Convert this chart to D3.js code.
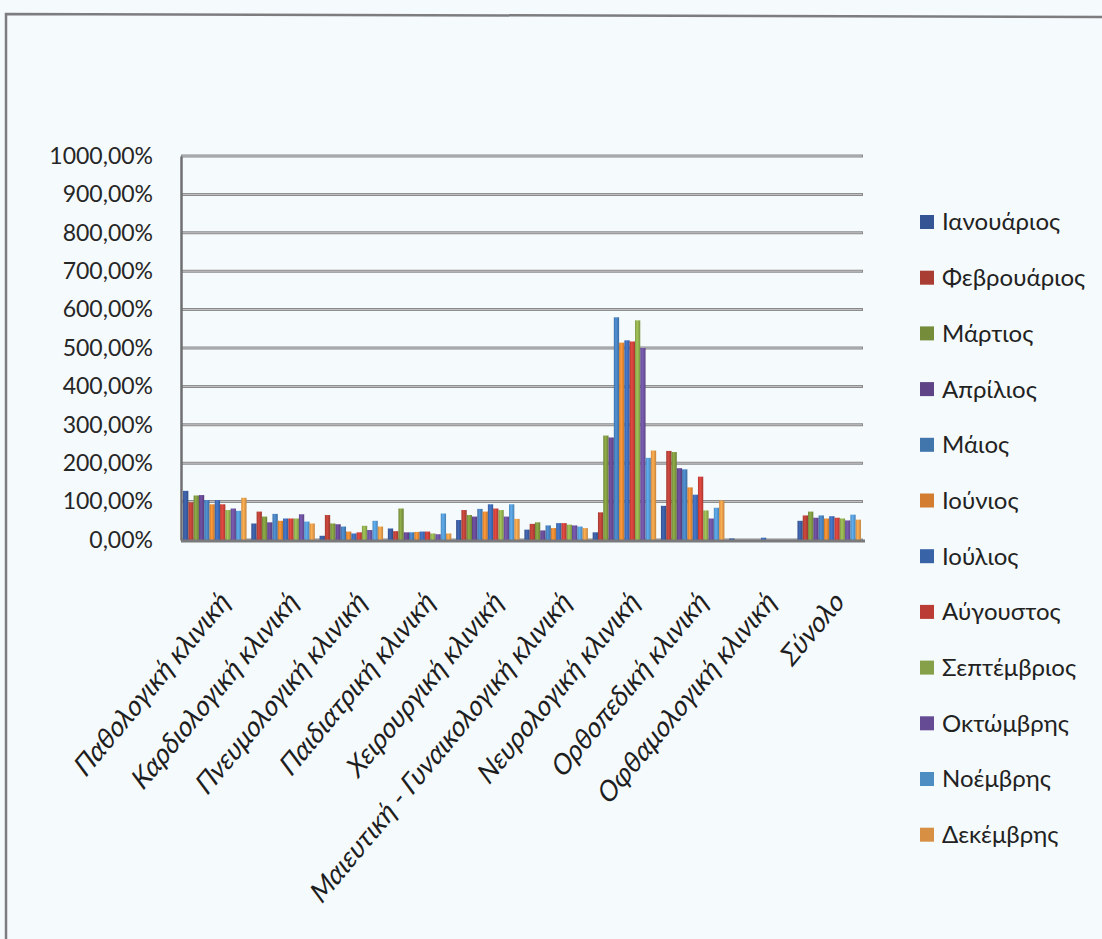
<!DOCTYPE html>
<html>
<head>
<meta charset="utf-8">
<script src="https://cdn.jsdelivr.net/npm/d3@7"></script>
<style>
  html, body { margin: 0; padding: 0; background: #f5fafc; }
  svg { display: block; font-family: Lato, "Open Sans", sans-serif; }
</style>
</head>
<body>
<script>
// κλινικές (κατηγορίες)
var klinikes = ["Παθολογική κλινική", "Καρδιολογική κλινική", "Πνευμολογική κλινική",
  "Παιδιατρική κλινική", "Χειρουργική κλινική", "Μαιευτική - Γυναικολογική κλινική",
  "Νευρολογική κλινική", "Ορθοπεδική κλινική", "Οφθαμολογική κλινική", "Σύνολο"];

// μήνες (σειρές)
var mines = ["Ιανουάριος", "Φεβρουάριος", "Μάρτιος", "Απρίλιος", "Μάιος", "Ιούνιος",
  "Ιούλιος", "Αύγουστος", "Σεπτέμβριος", "Οκτώμβρης", "Νοέμβρης", "Δεκέμβρης"];

// ποσοστά (%) ανά κλινική, Ιαν..Δεκ
var pathologiki    = [128, 98, 116, 117, 104, 93, 104, 93, 78, 82, 76, 110];
var kardiologiki   = [43, 74, 61, 46, 68, 50, 56, 56, 56, 67, 48, 43];
var pneumologiki   = [11, 65, 43, 41, 35, 22, 17, 20, 37, 26, 50, 35];
var paidiatriki    = [30, 23, 82, 20, 20, 21, 22, 22, 17, 15, 69, 17];
var xeirourgiki    = [52, 78, 65, 61, 81, 74, 93, 82, 78, 61, 93, 55];
var maieutiki      = [27, 42, 46, 25, 38, 31, 44, 44, 40, 38, 35, 31];
var neurologiki    = [20, 72, 272, 267, 580, 514, 520, 517, 572, 500, 214, 233];
var orthopediki    = [89, 232, 229, 187, 184, 137, 118, 165, 77, 56, 84, 103];
var ofthalmologiki = [4, 0, 0, 0, 0, 0, 6, 0, 0, 0, 0, 0];
var synolo         = [50, 64, 74, 58, 64, 56, 62, 58, 56, 51, 66, 53];

var yTicks = [0, 100, 200, 300, 400, 500, 600, 700, 800, 900, 1000];

var pinakas = [pathologiki, kardiologiki, pneumologiki, paidiatriki, xeirourgiki,
  maieutiki, neurologiki, orthopediki, ofthalmologiki, synolo];

var xromata = ["#3c5fa6", "#c0443a", "#849f43", "#6a4c98", "#4a86c4", "#ee8e35",
  "#4170bd", "#d3443c", "#97b552", "#7155a6", "#58a0dc", "#f4a24c"];

var largura = 1102;
var altura = 939;
var aristera = 181, dexia = 863, pano = 156, kato = 540;

var svg = d3.select("body")
            .append("svg")
            .attr("width", largura)
            .attr("height", altura);

// πλαίσιο σκαναρίσματος
svg.append("path")
   .attr("d", "M6,939 L6,14 L1102,17")
   .attr("fill", "none")
   .attr("stroke", "#7d7d80")
   .attr("stroke-width", 2.5);

var defs = svg.append("defs");
xromata.forEach(function(c, i) {
  var g = defs.append("linearGradient")
              .attr("id", "grad" + i)
              .attr("x1", "0").attr("x2", "1").attr("y1", "0").attr("y2", "0");
  g.append("stop").attr("offset", "0").attr("stop-color", d3.color(c).darker(0.5));
  g.append("stop").attr("offset", "0.4").attr("stop-color", d3.color(c).brighter(0.25));
  g.append("stop").attr("offset", "1").attr("stop-color", d3.color(c).darker(0.6));
});

var y = d3.scaleLinear().domain([0, 1000]).range([kato, pano]);

var x0 = d3.scaleBand()
           .domain(klinikes)
           .range([aristera, dexia])
           .paddingInner(0.07)
           .paddingOuter(0.03);

var x1 = d3.scaleBand()
           .domain(d3.range(mines.length))
           .range([0, x0.bandwidth()]);

// γραμμές πλέγματος
var grid = svg.append("g");
grid.selectAll("line.ext")
    .data(yTicks)
    .enter()
    .append("line")
    .attr("class", "ext")
    .attr("x1", aristera).attr("x2", dexia)
    .attr("y1", function(d) { return y(d); })
    .attr("y2", function(d) { return y(d); })
    .attr("stroke", "#8a8a8c")
    .attr("stroke-width", 3);
grid.selectAll("line.int")
    .data(yTicks)
    .enter()
    .append("line")
    .attr("class", "int")
    .attr("x1", aristera + 1).attr("x2", dexia - 1)
    .attr("y1", function(d) { return y(d); })
    .attr("y2", function(d) { return y(d); })
    .attr("stroke", "#d6d6d8")
    .attr("stroke-width", 0.8);

// άξονας y
var axonasY = svg.append("g")
   .attr("transform", "translate(" + aristera + ",0)")
   .call(d3.axisLeft(y)
           .tickValues(yTicks)
           .tickSize(0)
           .tickPadding(28)
           .tickFormat(function(d) { return d + ",00%"; }));
axonasY.select(".domain").attr("stroke", "#6f6f72").attr("stroke-width", 2.5);
axonasY.selectAll("text")
       .attr("font-size", 23)
       .attr("fill", "#262626")
       .attr("font-family", "Lato, sans-serif");

// στήλες
var omades = svg.append("g")
   .selectAll("g")
   .data(klinikes)
   .enter()
   .append("g")
   .attr("transform", function(d) { return "translate(" + x0(d) + ",0)"; });

omades.selectAll("rect")
      .data(function(d, i) { return pinakas[i].map(function(v, j) { return {j: j, v: v}; }); })
      .enter()
      .append("rect")
      .attr("x", function(d) { return x1(d.j); })
      .attr("width", x1.bandwidth())
      .attr("y", function(d) { return y(d.v); })
      .attr("height", function(d) { return kato - y(d.v); })
      .attr("fill", function(d) { return "url(#grad" + d.j + ")"; });

// δάπεδο
svg.append("line")
   .attr("x1", aristera).attr("x2", dexia + 2)
   .attr("y1", kato + 1).attr("y2", kato + 1)
   .attr("stroke", "#7a7a7d")
   .attr("stroke-width", 3);

// ετικέτες άξονα x (ελαφρώς τεντωμένες κάθετα όπως στο σκαναρισμένο)
svg.append("g")
   .selectAll("text")
   .data(klinikes)
   .enter()
   .append("text")
   .attr("transform", function(d) {
     return "translate(" + (x0(d) + x0.bandwidth() / 2 + 10) + ",596) scale(1,1.12) rotate(-47)";
   })
   .attr("text-anchor", "end")
   .attr("dy", "0.35em")
   .attr("font-size", 26)
   .attr("font-style", "italic")
   .attr("fill", "#1e1e1e")
   .text(function(d) { return d; });

// υπόμνημα
var ypomnima = svg.append("g")
   .selectAll("g")
   .data(mines)
   .enter()
   .append("g")
   .attr("transform", function(d, i) { return "translate(920," + (222 + i * 55.7) + ")"; });

ypomnima.append("rect")
        .attr("x", 0).attr("y", -7)
        .attr("width", 14).attr("height", 14)
        .attr("fill", function(d, i) { return d3.color(xromata[i]).darker(0.35); });

ypomnima.append("text")
        .attr("x", 22)
        .attr("dy", "0.35em")
        .attr("font-size", 24)
        .attr("fill", "#222")
        .text(function(d) { return d; });
</script>
</body>
</html>
